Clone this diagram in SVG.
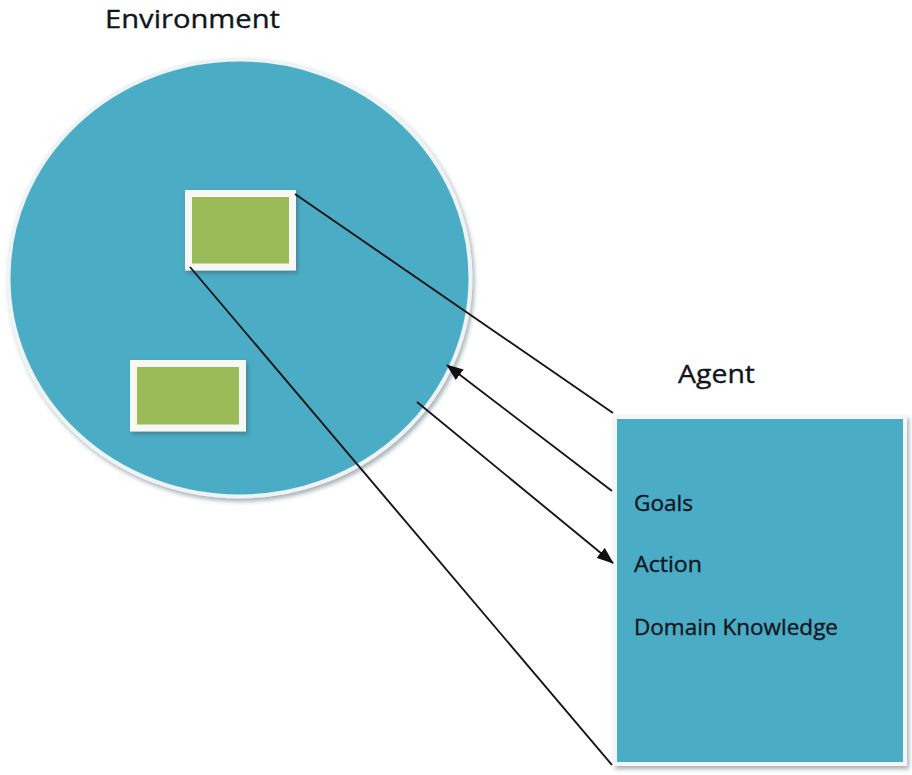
<svg xmlns="http://www.w3.org/2000/svg" width="912" height="775" viewBox="0 0 912 775">
  <style>
    .label { font-family: "Open Sans", "Liberation Sans", sans-serif; fill: #10161e; stroke: #10161e; stroke-width: 0.35; }
    .big { font-size: 25px; }
    .small { font-size: 21px; }
    .conn { stroke: #161616; stroke-width: 1.9; fill: none; }
    .green { fill: #9BBB59; stroke: #f7f7f4; stroke-width: 7; }
  </style>
  <defs>
    <marker id="arrow" markerWidth="17" markerHeight="13" refX="16" refY="6.5" orient="auto" markerUnits="userSpaceOnUse">
      <path d="M0,0 L17,6.5 L0,13 Z" fill="#111"/>
    </marker>
    <filter id="shadow" x="-10%" y="-10%" width="125%" height="125%">
      <feDropShadow dx="2" dy="3" stdDeviation="2" flood-color="#3a5560" flood-opacity="0.45"/>
    </filter>
  </defs>
  <rect width="912" height="775" fill="#ffffff"/>

  <g id="environment">
    <ellipse cx="239.5" cy="278" rx="231" ry="218.5" fill="#4BACC6" stroke="#eef3f4" stroke-width="4" filter="url(#shadow)"/>
    <text class="label big" x="105" y="28" textLength="175" lengthAdjust="spacingAndGlyphs">Environment</text>
  </g>

  <g id="env-box-1">
    <rect class="green" x="188.5" y="193.5" width="104" height="73.5" filter="url(#shadow)"/>
  </g>

  <g id="env-box-2">
    <rect class="green" x="133.5" y="363.5" width="109" height="64.5" filter="url(#shadow)"/>
  </g>

  <g id="agent">
    <rect x="615" y="417" width="290" height="347" fill="#4BACC6" stroke="#f4f7f8" stroke-width="4" filter="url(#shadow)"/>
    <text class="label big" x="678" y="383" textLength="77" lengthAdjust="spacingAndGlyphs">Agent</text>
    <text class="label small" x="634" y="511" textLength="59" lengthAdjust="spacingAndGlyphs">Goals</text>
    <text class="label small" x="634" y="572" textLength="68" lengthAdjust="spacingAndGlyphs">Action</text>
    <text class="label small" x="634" y="635" textLength="204" lengthAdjust="spacingAndGlyphs">Domain Knowledge</text>
  </g>

  <g id="connectors">
    <line class="conn" x1="295" y1="194" x2="613" y2="413"/>
    <line class="conn" x1="612" y1="491" x2="447" y2="365" marker-end="url(#arrow)"/>
    <line class="conn" x1="417" y1="402" x2="613" y2="563" marker-end="url(#arrow)"/>
    <line class="conn" x1="190" y1="267" x2="612" y2="765"/>
  </g>
</svg>
